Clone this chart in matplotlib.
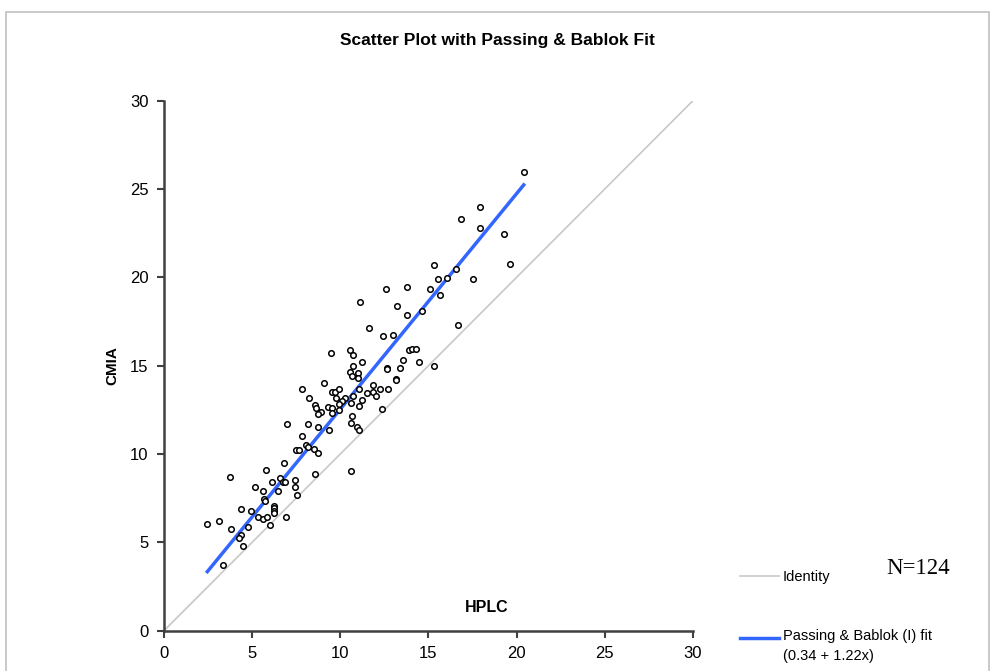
import numpy as np
import matplotlib
matplotlib.use("Agg")
import matplotlib.pyplot as plt
from matplotlib.lines import Line2D
from matplotlib.patches import Rectangle

plt.rcParams['font.family'] = ['Liberation Sans', 'DejaVu Sans']

# values
hplc = [6.96, 8.17, 8.74, 9.38, 10.59, 10.96, 11.08, 7.84, 8.07, 8.18,
        7.49, 7.67, 8.49, 8.74, 6.81, 5.77, 3.74, 8.56, 10.59, 6.56,
        6.14, 6.75, 6.89, 7.45, 5.18, 7.45, 5.60, 6.48, 7.53, 5.67,
        5.75, 6.24, 6.24, 6.24, 6.24, 4.38, 4.95, 3.10, 2.46, 5.35,
        5.60, 5.86, 6.90, 4.78, 3.82, 6.00, 4.38, 4.24, 4.46, 3.33,
        12.59, 13.80, 15.10, 11.13, 13.23, 13.80, 14.62, 11.63, 12.44, 13.01,
        9.46, 10.57, 10.74, 13.88, 14.07, 14.28, 11.23, 13.56, 14.45, 10.74,
        12.67, 12.67, 13.40, 10.57, 10.99, 10.66, 10.99, 13.14, 13.14, 9.06,
        7.84, 9.53, 9.70, 9.94, 11.06, 11.87, 11.53, 11.87, 12.03, 12.27,
        12.69, 8.24, 9.77, 10.28, 10.11, 10.74, 8.56, 8.64, 8.89, 8.74,
        9.30, 9.53, 9.55, 9.93, 9.94, 10.59, 11.23, 11.06, 12.37, 10.66,
        20.40, 17.91, 16.86, 17.91, 19.29, 19.61, 15.33, 16.55, 15.56, 16.07,
        17.51, 15.66, 16.69, 15.31]
cmia = [11.68, 11.68, 11.53, 11.36, 11.75, 11.54, 11.36, 11.04, 10.49, 10.38,
        10.23, 10.23, 10.30, 10.07, 9.51, 9.11, 8.70, 8.87, 9.04, 8.62,
        8.40, 8.39, 8.44, 8.55, 8.15, 8.15, 7.91, 7.91, 7.66, 7.44,
        7.36, 7.06, 6.93, 6.79, 6.64, 6.87, 6.79, 6.23, 6.06, 6.45,
        6.30, 6.45, 6.45, 5.89, 5.74, 5.98, 5.40, 5.25, 4.78, 3.74,
        19.32, 19.47, 19.32, 18.59, 18.36, 17.87, 18.11, 17.15, 16.66, 16.75,
        15.72, 15.87, 15.62, 15.87, 15.94, 15.94, 15.22, 15.30, 15.22, 14.98,
        14.88, 14.81, 14.88, 14.66, 14.57, 14.40, 14.32, 14.24, 14.19, 14.00,
        13.68, 13.53, 13.53, 13.68, 13.68, 13.92, 13.44, 13.53, 13.28, 13.68,
        13.68, 13.19, 13.19, 13.19, 13.02, 13.27, 12.76, 12.59, 12.39, 12.25,
        12.66, 12.59, 12.30, 12.83, 12.49, 12.87, 13.04, 12.72, 12.56, 12.17,
        25.98, 23.98, 23.32, 22.77, 22.45, 20.75, 20.68, 20.45, 19.89, 19.96,
        19.89, 19.00, 17.30, 14.98]

intercept = 0.34
slope = 1.22
ticks = [0, 5, 10, 15, 20, 25, 30]

fig = plt.figure(figsize=(9.95, 6.71), dpi=100)
ax = fig.add_axes([0.1648, 0.0601, 0.5317, 0.790])

# identity line and fit
ax.plot([0, 30], [0, 30], color='#c8c8c8', lw=1.2, zorder=1)
xf = np.array([min(hplc), max(hplc)])
ax.plot(xf, intercept + slope * xf, color='#3366ff', lw=2.5, zorder=2)
ax.scatter(hplc, cmia, s=16, facecolors='white', edgecolors='black',
           linewidths=1.1, zorder=3)

ax.set_xlim(0, 30)
ax.set_ylim(0, 30)
ax.set_xticks(ticks)
ax.set_yticks(ticks)
ax.tick_params(direction='out', length=5, width=1.5, color='#404040',
               labelsize=12, pad=6)
for s in ['top', 'right']:
    ax.spines[s].set_visible(False)
for s in ['left', 'bottom']:
    ax.spines[s].set_color('#404040')
    ax.spines[s].set_linewidth(1.8)
ax.set_ylabel('CMIA', fontweight='bold', fontsize=11, labelpad=8)

fig.text(487 / 995, 1 - 607 / 671, 'HPLC', fontweight='bold', fontsize=11.5,
         ha='center', va='center')
fig.text(497 / 995, 1 - 40 / 671, 'Scatter Plot with Passing & Bablok Fit',
         fontweight='bold', fontsize=12.5, ha='center', va='center')

# outer frame
fig.add_artist(Rectangle((6 / 995, -0.05), 983 / 995, 1.05 - 12 / 671,
                         transform=fig.transFigure, fill=False,
                         edgecolor='#c0c0c0', lw=1.2))

# legend drawn by hand
fig.add_artist(Line2D([740 / 995, 779 / 995], [1 - 576 / 671] * 2,
                      transform=fig.transFigure, color='#c8c8c8', lw=1.2))
fig.text(783 / 995, 1 - 577 / 671, 'Identity', fontsize=10.5, va='center')
fig.add_artist(Line2D([740 / 995, 779 / 995], [1 - 638 / 671] * 2,
                      transform=fig.transFigure, color='#3366ff', lw=2.5))
fig.text(783 / 995, 1 - 636 / 671, 'Passing & Bablok (I) fit', fontsize=10.5,
         va='center')
fig.text(783 / 995, 1 - 656 / 671, '(%.2f + %.2fx)' % (intercept, slope),
         fontsize=10.5, va='center')
fig.text(886 / 995, 1 - 569 / 671, 'N=%d' % len(hplc), fontsize=16.5,
         family=['Liberation Serif', 'DejaVu Serif'], va='center')

plt.savefig('out.png', dpi=100)
